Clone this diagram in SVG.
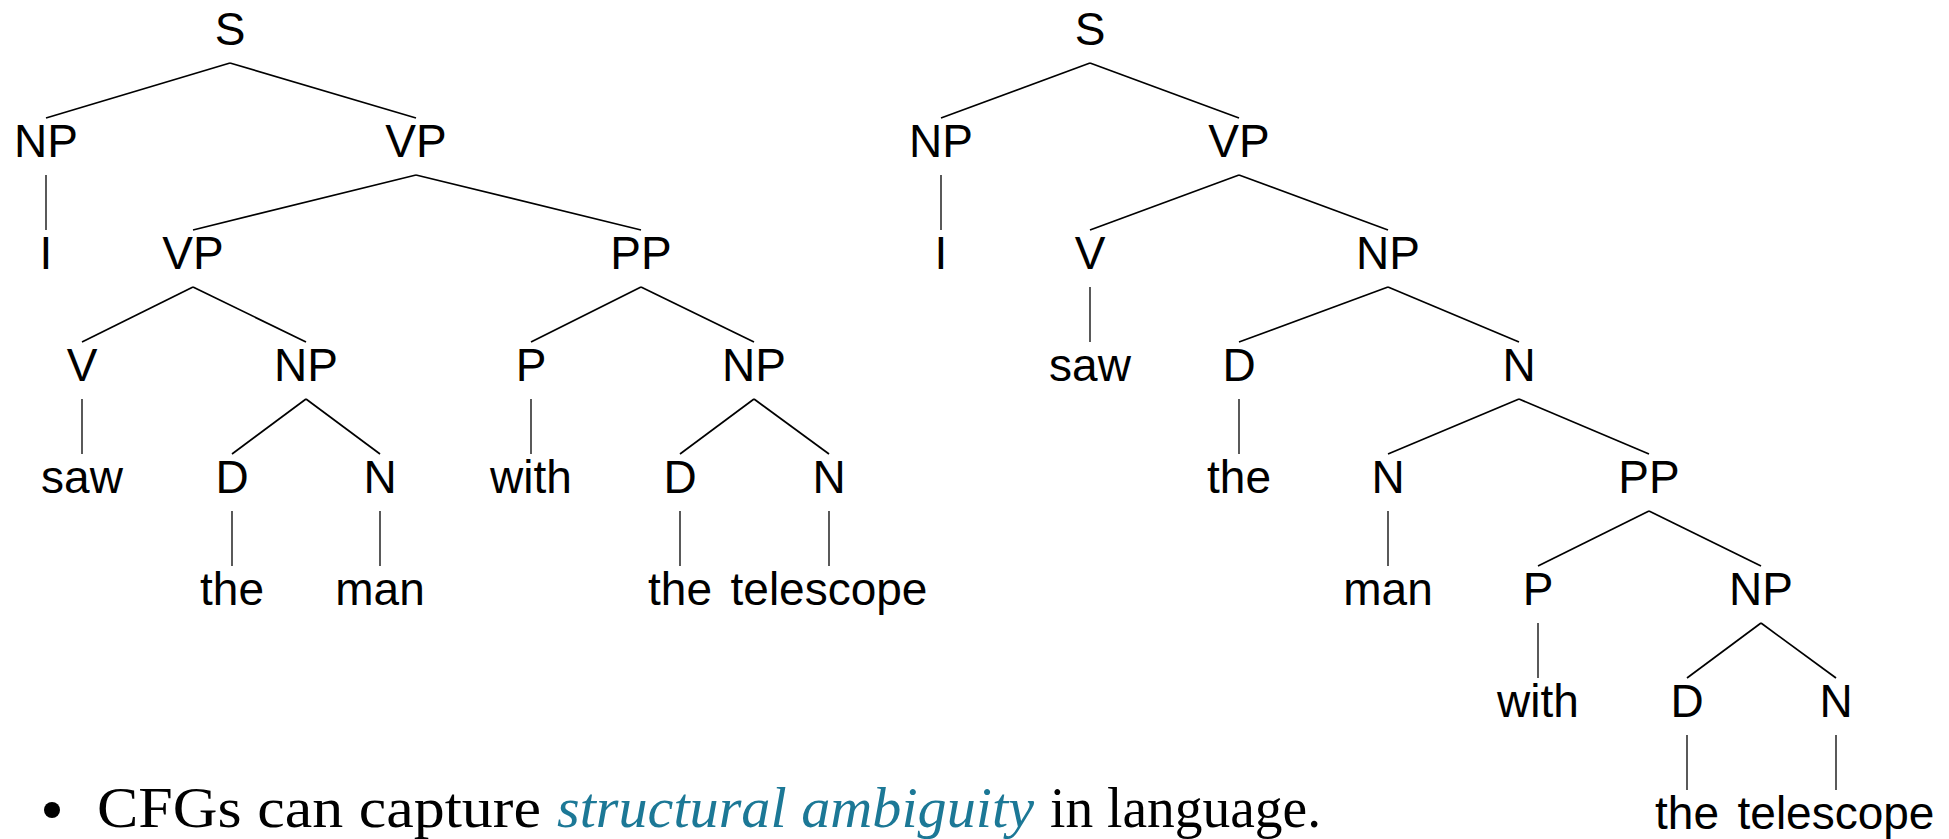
<svg xmlns="http://www.w3.org/2000/svg" width="1949" height="839" viewBox="0 0 1949 839">
<style>
.n{font-family:"Liberation Sans",Arial,sans-serif;font-size:46px;fill:#000;text-anchor:middle}
.e line{stroke:#000;stroke-width:1.7}
.e line.v{stroke-width:1.3}
.b{font-family:"Liberation Serif","Times New Roman",serif;font-size:56px;fill:#000}
.em{font-style:italic;fill:#1c7896}
</style>
<rect width="1949" height="839" fill="#fff"/>
<g id="connectors" class="e">
<line x1="230" y1="63" x2="46" y2="118"/>
<line x1="230" y1="63" x2="416" y2="118"/>
<line class="v" x1="46" y1="175" x2="46" y2="230"/>
<line x1="416" y1="175" x2="193" y2="230"/>
<line x1="416" y1="175" x2="641" y2="230"/>
<line x1="193" y1="287" x2="82" y2="342"/>
<line x1="193" y1="287" x2="306" y2="342"/>
<line x1="641" y1="287" x2="531" y2="342"/>
<line x1="641" y1="287" x2="754" y2="342"/>
<line class="v" x1="82" y1="399" x2="82" y2="454"/>
<line x1="306" y1="399" x2="232" y2="454"/>
<line x1="306" y1="399" x2="380" y2="454"/>
<line class="v" x1="531" y1="399" x2="531" y2="454"/>
<line x1="754" y1="399" x2="680" y2="454"/>
<line x1="754" y1="399" x2="829" y2="454"/>
<line class="v" x1="232" y1="511" x2="232" y2="566"/>
<line class="v" x1="380" y1="511" x2="380" y2="566"/>
<line class="v" x1="680" y1="511" x2="680" y2="566"/>
<line class="v" x1="829" y1="511" x2="829" y2="566"/>
<line x1="1090" y1="63" x2="941" y2="118"/>
<line x1="1090" y1="63" x2="1239" y2="118"/>
<line class="v" x1="941" y1="175" x2="941" y2="230"/>
<line x1="1239" y1="175" x2="1090" y2="230"/>
<line x1="1239" y1="175" x2="1388" y2="230"/>
<line class="v" x1="1090" y1="287" x2="1090" y2="342"/>
<line x1="1388" y1="287" x2="1239" y2="342"/>
<line x1="1388" y1="287" x2="1519" y2="342"/>
<line class="v" x1="1239" y1="399" x2="1239" y2="454"/>
<line x1="1519" y1="399" x2="1388" y2="454"/>
<line x1="1519" y1="399" x2="1649" y2="454"/>
<line class="v" x1="1388" y1="511" x2="1388" y2="566"/>
<line x1="1649" y1="511" x2="1538" y2="566"/>
<line x1="1649" y1="511" x2="1761" y2="566"/>
<line class="v" x1="1538" y1="623" x2="1538" y2="678"/>
<line x1="1761" y1="623" x2="1687" y2="678"/>
<line x1="1761" y1="623" x2="1836" y2="678"/>
<line class="v" x1="1687" y1="735" x2="1687" y2="790"/>
<line class="v" x1="1836" y1="735" x2="1836" y2="790"/>
</g>
<g id="tree1">
<g id="t1-S"><text class="n" x="230" y="45">S</text></g>
<g id="t1-NP"><text class="n" x="46" y="157">NP</text></g>
<g id="t1-VP"><text class="n" x="416" y="157">VP</text></g>
<g id="t1-I"><text class="n" x="46" y="269">I</text></g>
<g id="t1-VP2"><text class="n" x="193" y="269">VP</text></g>
<g id="t1-PP"><text class="n" x="641" y="269">PP</text></g>
<g id="t1-V"><text class="n" x="82" y="381">V</text></g>
<g id="t1-NP2"><text class="n" x="306" y="381">NP</text></g>
<g id="t1-P"><text class="n" x="531" y="381">P</text></g>
<g id="t1-NP3"><text class="n" x="754" y="381">NP</text></g>
<g id="t1-saw"><text class="n" x="82" y="493">saw</text></g>
<g id="t1-D"><text class="n" x="232" y="493">D</text></g>
<g id="t1-N"><text class="n" x="380" y="493">N</text></g>
<g id="t1-with"><text class="n" x="531" y="493">with</text></g>
<g id="t1-D2"><text class="n" x="680" y="493">D</text></g>
<g id="t1-N2"><text class="n" x="829" y="493">N</text></g>
<g id="t1-the"><text class="n" x="232" y="605">the</text></g>
<g id="t1-man"><text class="n" x="380" y="605">man</text></g>
<g id="t1-the2"><text class="n" x="680" y="605">the</text></g>
<g id="t1-telescope"><text class="n" x="829" y="605">telescope</text></g>
</g>
<g id="tree2">
<g id="t2-S"><text class="n" x="1090" y="45">S</text></g>
<g id="t2-NP"><text class="n" x="941" y="157">NP</text></g>
<g id="t2-VP"><text class="n" x="1239" y="157">VP</text></g>
<g id="t2-I"><text class="n" x="941" y="269">I</text></g>
<g id="t2-V"><text class="n" x="1090" y="269">V</text></g>
<g id="t2-NP2"><text class="n" x="1388" y="269">NP</text></g>
<g id="t2-saw"><text class="n" x="1090" y="381">saw</text></g>
<g id="t2-D"><text class="n" x="1239" y="381">D</text></g>
<g id="t2-N"><text class="n" x="1519" y="381">N</text></g>
<g id="t2-the"><text class="n" x="1239" y="493">the</text></g>
<g id="t2-N2"><text class="n" x="1388" y="493">N</text></g>
<g id="t2-PP"><text class="n" x="1649" y="493">PP</text></g>
<g id="t2-man"><text class="n" x="1388" y="605">man</text></g>
<g id="t2-P"><text class="n" x="1538" y="605">P</text></g>
<g id="t2-NP3"><text class="n" x="1761" y="605">NP</text></g>
<g id="t2-with"><text class="n" x="1538" y="717">with</text></g>
<g id="t2-D2"><text class="n" x="1687" y="717">D</text></g>
<g id="t2-N3"><text class="n" x="1836" y="717">N</text></g>
<g id="t2-the2"><text class="n" x="1687" y="829">the</text></g>
<g id="t2-telescope"><text class="n" x="1836" y="829">telescope</text></g>
</g>
<g id="caption">
<circle cx="52" cy="810" r="8"/>
<text class="b" x="97" y="827" textLength="444" lengthAdjust="spacingAndGlyphs">CFGs can capture</text>
<text class="b em" x="557" y="827" textLength="477" lengthAdjust="spacingAndGlyphs">structural ambiguity</text>
<text class="b" x="1050" y="827" textLength="271" lengthAdjust="spacingAndGlyphs">in language.</text>
</g>
</svg>
